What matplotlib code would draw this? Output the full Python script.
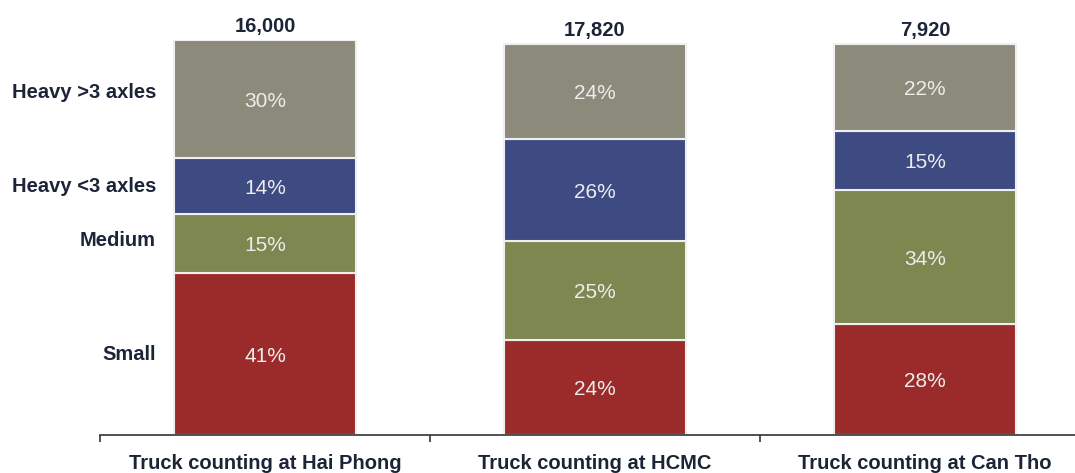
import matplotlib
matplotlib.use("Agg")
import matplotlib.pyplot as plt
import numpy as np

locations = ["Truck counting at Hai Phong", "Truck counting at HCMC", "Truck counting at Can Tho"]
totals = ["16,000", "17,820", "7,920"]
segments = ["Small", "Medium", "Heavy <3 axles", "Heavy >3 axles"]
small = [41, 24, 28]
medium = [15, 25, 34]
heavy_lt3 = [14, 26, 15]
heavy_gt3 = [30, 24, 22]
series = [small, medium, heavy_lt3, heavy_gt3]
colors = ["#9B2B2A", "#7E8750", "#3E4A82", "#8C8A7A"]

plt.rcParams['font.family'] = ['Liberation Sans', 'DejaVu Sans']

fig = plt.figure(figsize=(10.75, 4.73), dpi=100)
W, H = 1075, 473
ax = fig.add_axes([100 / W, (H - 435) / H, 975 / W, (435 - 40) / H])

x = np.arange(len(locations))
bw = 0.55
bottom = np.zeros(len(locations))
for vals, col in zip(series, colors):
    vals = np.array(vals, dtype=float)
    ax.bar(x, vals, bw, bottom=bottom, color=col, edgecolor="#EFEFEF", linewidth=1.5)
    for xi, b, v in zip(x, bottom, vals):
        ax.text(xi, b + v / 2, f"{int(v)}%", ha="center", va="center_baseline",
                color="#EDEDED", fontsize=15)
    bottom += vals

for xi, tot, top in zip(x, totals, bottom):
    ax.text(xi, top + 1.0, tot, ha="center", va="bottom", color="#1C2437",
            fontsize=14.5, fontweight="bold")

# segment labels on the left, aligned with first bar's segments
cum = 0
label_offsets = [0, 0.8, 0, 1.8]
for name, vals, off in zip(segments, series, label_offsets):
    center = cum + vals[0] / 2 + off
    ax.text(-0.33, center, name, ha="right", va="center", color="#1C2437",
            fontsize=14.5, fontweight="bold")
    cum += vals[0]

ax.set_xlim(-0.5, -0.5 + 975 / 330)
ax.set_ylim(0, 100)
for s in ["top", "right", "left"]:
    ax.spines[s].set_visible(False)
ax.spines["bottom"].set_color("#333333")
ax.spines["bottom"].set_linewidth(1.2)
ax.set_yticks([])
ax.set_xticks([-0.5, 0.5, 1.5])
ax.set_xticklabels([])
ax.tick_params(axis="x", direction="out", length=5, color="#333333", width=1.2)
ax.set_xticks(x, minor=True)
ax.set_xticklabels(locations, minor=True, fontsize=14.5, fontweight="bold", color="#1C2437")
ax.tick_params(axis="x", which="minor", length=0, pad=14)

fig.savefig("out.png", dpi=100)
